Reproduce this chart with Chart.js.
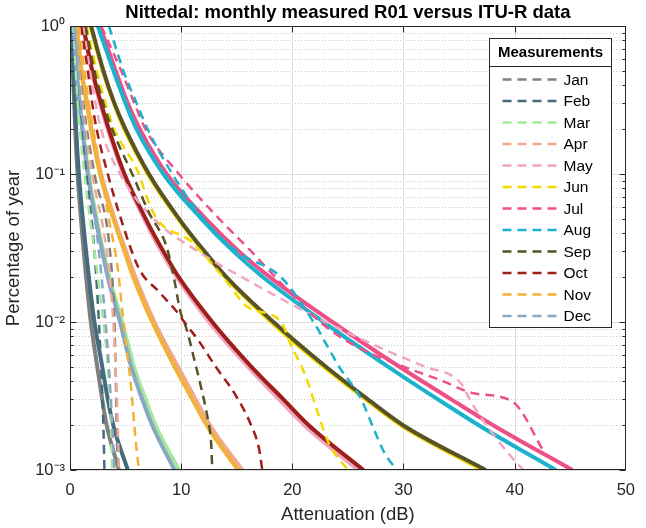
<!DOCTYPE html>
<html>
<head>
<meta charset="utf-8">
<script src="https://cdn.jsdelivr.net/npm/chart.js@4.4.1/dist/chart.umd.min.js"></script>
<style>
  html, body { margin: 0; padding: 0; background: #fff; }
  #wrap { width: 646px; height: 528px; }
</style>
</head>
<body>
<div id="wrap"><canvas id="chart" width="646" height="528"></canvas></div>
<script>
const months = ['Jan', 'Feb', 'Mar', 'Apr', 'May', 'Jun', 'Jul', 'Aug', 'Sep', 'Oct', 'Nov', 'Dec'];
const monthColors = ['#7f7f7f', '#456c7d', '#a4e89c', '#eea98f', '#f0a6bf', '#f2d900',
                     '#ef4f87', '#1ab2cc', '#575326', '#9e1f1a', '#f2b138', '#87a7c2'];
const yTicks = [0.001, 0.01, 0.1, 1];

// ITU-R prediction (solid), dB at these percentages
const pLevels = [1, 0.5, 0.3, 0.2, 0.1, 0.05, 0.03, 0.02, 0.01, 0.005, 0.003, 0.002, 0.001];
const ituJan = [0.17, 0.26, 0.38, 0.47, 0.68, 0.98, 1.23, 1.45, 1.87, 2.45, 2.9, 3.3, 4.4];
const ituFeb = [0.2, 0.3, 0.45, 0.55, 0.8, 1.15, 1.45, 1.7, 2.2, 2.9, 3.4, 3.9, 5.2];
const ituMar = [0.37, 0.62, 0.88, 1.15, 1.67, 2.4, 3.0, 3.55, 4.7, 5.75, 6.8, 7.7, 9.8];
const ituApr = [0.62, 1.05, 1.55, 1.95, 2.8, 4.0, 5.05, 5.9, 7.6, 9.7, 11.3, 12.6, 15.5];
const ituMay = [1.15, 1.95, 2.7, 3.4, 4.8, 6.65, 8.2, 9.6, 12.5, 16.0, 18.8, 21.1, 25.9];
const ituJun = [1.85, 2.95, 3.95, 4.9, 7.0, 9.7, 12.0, 14.0, 18.1, 22.8, 26.6, 29.8, 37.1];
const ituJul = [2.7, 4.1, 5.2, 6.3, 8.7, 12.2, 15.2, 18.0, 23.6, 29.6, 34.3, 38.1, 45.2];
const ituAug = [2.5, 3.9, 5.0, 6.0, 8.4, 11.8, 14.7, 17.4, 22.8, 28.6, 33.1, 36.8, 43.7];
const ituSep = [1.9, 3.0, 4.0, 5.0, 7.1, 9.8, 12.1, 14.1, 18.3, 23.0, 26.8, 30.0, 37.4];
const ituOct = [1.2, 2.0, 2.8, 3.5, 4.9, 6.8, 8.4, 9.8, 12.8, 16.3, 19.2, 21.5, 26.4];
const ituNov = [0.6, 1.0, 1.5, 1.9, 2.7, 3.9, 4.9, 5.7, 7.4, 9.4, 11.0, 12.3, 15.1];
const ituDec = [0.35, 0.6, 0.85, 1.1, 1.6, 2.3, 2.9, 3.4, 4.5, 5.5, 6.5, 7.4, 9.4];

// measured (dashed)
const measJanP = [1, 0.3, 0.1, 0.03, 0.01, 0.005, 0.002, 0.001];
const measJanDb = [0.5, 1.2, 2.2, 3.6, 4.0, 4.1, 4.2, 4.3];
const measFebP = [1, 0.3, 0.1, 0.03, 0.01, 0.005, 0.002, 0.001];
const measFebDb = [0.4, 0.9, 1.5, 2.2, 2.6, 2.8, 3.0, 3.1];
const measMarP = [1, 0.3, 0.1, 0.03, 0.01, 0.005, 0.002, 0.001];
const measMarDb = [0.3, 0.7, 1.3, 2.2, 3.0, 3.4, 3.7, 3.8];
const measAprP = [1, 0.3, 0.1, 0.03, 0.01, 0.005, 0.002, 0.001];
const measAprDb = [0.5, 1.1, 2.0, 3.3, 3.9, 4.1, 4.3, 4.4];
const measMayP = [1, 0.5, 0.3, 0.2, 0.1, 0.05, 0.03, 0.02, 0.01, 0.0065, 0.005, 0.0039, 0.0027, 0.0012, 0.001];
const measMayDb = [1.2, 1.8, 2.3, 2.8, 4.5, 7.5, 11.5, 15.5, 23.0, 28.3, 31.9, 35.1, 36.3, 39.8, 40.8];
const measJunP = [1, 0.5, 0.3, 0.2, 0.1, 0.07, 0.05, 0.035, 0.02, 0.0126, 0.01, 0.0072, 0.0043, 0.0023, 0.0015, 0.001];
const measJunDb = [1.5, 2.4, 3.2, 4.0, 6.2, 6.9, 7.8, 10.9, 13.8, 16.0, 19.0, 19.8, 21.2, 22.4, 23.3, 25.0];
const measJulP = [1, 0.5, 0.3, 0.2, 0.1, 0.05, 0.03, 0.02, 0.01, 0.007, 0.005, 0.004, 0.0033, 0.0029, 0.0013];
const measJulDb = [2.8, 4.6, 5.8, 6.8, 9.8, 13.4, 16.3, 18.5, 22.5, 25.5, 30.0, 33.5, 36.3, 39.8, 42.7];
const measAugP = [1, 0.5, 0.3, 0.2, 0.1, 0.05, 0.03, 0.02, 0.01, 0.005, 0.003, 0.002, 0.0013, 0.001];
const measAugDb = [3.5, 4.8, 6.0, 7.0, 9.2, 12.0, 15.0, 19.0, 21.9, 24.2, 26.2, 27.2, 28.3, 29.4];
const measSepP = [1, 0.5, 0.3, 0.2, 0.1, 0.055, 0.032, 0.019, 0.012, 0.0089, 0.0055, 0.0036, 0.0022, 0.0015, 0.001];
const measSepDb = [1.4, 2.2, 3.0, 3.8, 5.6, 7.1, 8.7, 9.4, 9.9, 10.5, 11.2, 11.8, 12.4, 12.7, 12.8];
const measOctP = [1, 0.5, 0.3, 0.2, 0.1, 0.055, 0.023, 0.016, 0.012, 0.0093, 0.0076, 0.005, 0.0032, 0.002, 0.0014, 0.001];
const measOctDb = [1.0, 1.6, 2.0, 2.4, 3.4, 4.4, 6.2, 8.0, 9.5, 10.6, 11.5, 13.1, 14.9, 16.3, 17.0, 17.3];
const measNovP = [1, 0.5, 0.3, 0.2, 0.1, 0.05, 0.023, 0.012, 0.0065, 0.0036, 0.0016, 0.001];
const measNovDb = [0.8, 1.3, 1.7, 2.1, 2.8, 3.5, 4.3, 4.7, 5.1, 5.5, 5.9, 6.2];
const measDecP = [1, 0.3, 0.1, 0.03, 0.01, 0.005, 0.002, 0.001];
const measDecDb = [0.4, 1.0, 1.7, 2.6, 3.2, 3.5, 3.8, 4.0];

const ituAll = [ituJan, ituFeb, ituMar, ituApr, ituMay, ituJun, ituJul, ituAug, ituSep, ituOct, ituNov, ituDec];
const measP = [measJanP, measFebP, measMarP, measAprP, measMayP, measJunP, measJulP, measAugP, measSepP, measOctP, measNovP, measDecP];
const measDb = [measJanDb, measFebDb, measMarDb, measAprDb, measMayDb, measJunDb, measJulDb, measAugDb, measSepDb, measOctDb, measNovDb, measDecDb];

const FONT = "'Liberation Sans', Arial, Helvetica, sans-serif";
const AXIS_COL = '#262626';
const DASH = [9, 6];

function toPoints(xs, ys) {
    return xs.map((x, i) => ({ x: x, y: ys[i] }));
}

const datasets = [];
months.forEach((m, i) => {
    datasets.push({
        label: m,
        data: toPoints(measDb[i], measP[i]),
        borderColor: monthColors[i],
        borderWidth: 2.5,
        borderDash: DASH,
        pointRadius: 0,
        cubicInterpolationMode: 'monotone',
        order: -i
    });
});
months.forEach((m, i) => {
    datasets.push({
        label: m + ' ITU-R',
        data: toPoints(ituAll[i], pLevels),
        borderColor: monthColors[i],
        borderWidth: 4,
        pointRadius: 0,
        cubicInterpolationMode: 'monotone',
        order: 20 - i
    });
});

const supDigits = { '0': '\u2070', '1': '\u00b9', '2': '\u00b2', '3': '\u00b3', '-': '\u207b' };
function powLabel(v) {
    const e = String(Math.round(Math.log10(v)));
    return '10' + e.split('').map(c => supDigits[c]).join('');
}

// grid, box and inward ticks like the original figure
const axesPlugin = {
    id: 'axesPlugin',
    beforeDatasetsDraw(chart) {
        const { ctx, chartArea: a, scales: { x, y } } = chart;
        ctx.save();
        ctx.lineWidth = 1;
        // minor y grid, dotted
        ctx.strokeStyle = '#c8c8c8';
        ctx.setLineDash([1, 2]);
        for (let e = -3; e < 0; e++) {
            for (let k = 2; k <= 9; k++) {
                const py = Math.round(y.getPixelForValue(k * Math.pow(10, e))) + 0.5;
                ctx.beginPath(); ctx.moveTo(a.left, py); ctx.lineTo(a.right, py); ctx.stroke();
            }
        }
        // major grid
        ctx.setLineDash([]);
        ctx.strokeStyle = '#dedede';
        yTicks.forEach(v => {
            const py = Math.round(y.getPixelForValue(v)) + 0.5;
            ctx.beginPath(); ctx.moveTo(a.left, py); ctx.lineTo(a.right, py); ctx.stroke();
        });
        for (let v = 10; v < 50; v += 10) {
            const px = Math.round(x.getPixelForValue(v)) + 0.5;
            ctx.beginPath(); ctx.moveTo(px, a.top); ctx.lineTo(px, a.bottom); ctx.stroke();
        }
        ctx.restore();
    },
    afterDatasetsDraw(chart) {
        const { ctx, chartArea: a, scales: { x, y } } = chart;
        ctx.save();
        ctx.strokeStyle = AXIS_COL;
        ctx.lineWidth = 1;
        const L = Math.round(a.left) + 0.5, R = Math.round(a.right) - 0.5;
        const T = Math.round(a.top) + 0.5, B = Math.round(a.bottom) - 0.5;
        ctx.strokeRect(L, T, R - L, B - T);
        ctx.beginPath();
        for (let v = 10; v < 50; v += 10) {
            const px = Math.round(x.getPixelForValue(v)) + 0.5;
            ctx.moveTo(px, B); ctx.lineTo(px, B - 6);
            ctx.moveTo(px, T); ctx.lineTo(px, T + 6);
        }
        for (let e = -3; e <= 0; e++) {
            for (let k = 1; k <= 9; k++) {
                const v = k * Math.pow(10, e);
                if (v > 1) break;
                const py = Math.round(y.getPixelForValue(v)) + 0.5;
                const len = k === 1 ? 6 : 3;
                ctx.moveTo(L, py); ctx.lineTo(L + len, py);
                ctx.moveTo(R, py); ctx.lineTo(R - len, py);
            }
        }
        ctx.stroke();
        ctx.restore();
    },
    afterDraw(chart) {
        const { ctx, chartArea: a } = chart;
        ctx.save();
        // title centred over the axes
        ctx.fillStyle = '#000';
        ctx.font = 'bold 18.5px ' + FONT;
        ctx.textAlign = 'center';
        ctx.textBaseline = 'middle';
        ctx.fillText('Nittedal: monthly measured R01 versus ITU-R data', (a.left + a.right) / 2, 13);

        // legend box
        const lw = 122, lh = 289;
        const lx = Math.round(a.right) - 15 - lw + 0.5;
        const ly = Math.round(a.top) + 12 + 0.5;
        ctx.fillStyle = '#fff';
        ctx.fillRect(lx, ly, lw, lh);
        ctx.strokeStyle = AXIS_COL;
        ctx.lineWidth = 1;
        ctx.strokeRect(lx, ly, lw, lh);
        ctx.beginPath(); ctx.moveTo(lx, ly + 28); ctx.lineTo(lx + lw, ly + 28); ctx.stroke();
        ctx.fillStyle = '#000';
        ctx.font = 'bold 15px ' + FONT;
        ctx.fillText('Measurements', lx + lw / 2, ly + 14);
        ctx.font = '15.5px ' + FONT;
        ctx.textAlign = 'left';
        months.forEach((m, i) => {
            const yy = ly + 41 + i * 21.5;
            ctx.strokeStyle = monthColors[i];
            ctx.lineWidth = 2.5;
            ctx.setLineDash(DASH);
            ctx.beginPath(); ctx.moveTo(lx + 13, yy); ctx.lineTo(lx + 67, yy); ctx.stroke();
            ctx.setLineDash([]);
            ctx.fillStyle = '#000';
            ctx.fillText(m, lx + 74, yy + 1);
        });
        ctx.restore();
    }
};

new Chart(document.getElementById('chart'), {
    type: 'line',
    data: { datasets: datasets },
    options: {
        responsive: false,
        animation: false,
        devicePixelRatio: 1,
        layout: { padding: { top: 26, right: 11, left: 0, bottom: 0 } },
        plugins: { legend: { display: false }, tooltip: { enabled: false } },
        scales: {
            x: {
                type: 'linear',
                min: 0,
                max: 50,
                grid: { display: false, drawTicks: false },
                border: { display: false },
                ticks: { stepSize: 10, padding: 11, color: AXIS_COL, font: { family: FONT, size: 16.5 } },
                title: { display: true, text: 'Attenuation (dB)', color: AXIS_COL,
                         font: { family: FONT, size: 18.5 }, padding: { top: 0, bottom: 2 } },
                afterFit: s => { s.height = 58; }
            },
            y: {
                type: 'logarithmic',
                min: 0.001,
                max: 1,
                grid: { display: false, drawTicks: false },
                border: { display: false },
                afterBuildTicks: s => { s.ticks = yTicks.map(v => ({ value: v })); },
                ticks: { padding: 5, color: AXIS_COL, font: { family: FONT, size: 16.5 },
                         callback: v => powLabel(v) },
                title: { display: true, text: 'Percentage of year', color: AXIS_COL,
                         font: { family: FONT, size: 18.5 }, padding: { top: 3, bottom: 0 } },
                afterFit: s => { s.width = 70; }
            }
        }
    },
    plugins: [axesPlugin]
});
</script>
</body>
</html>
